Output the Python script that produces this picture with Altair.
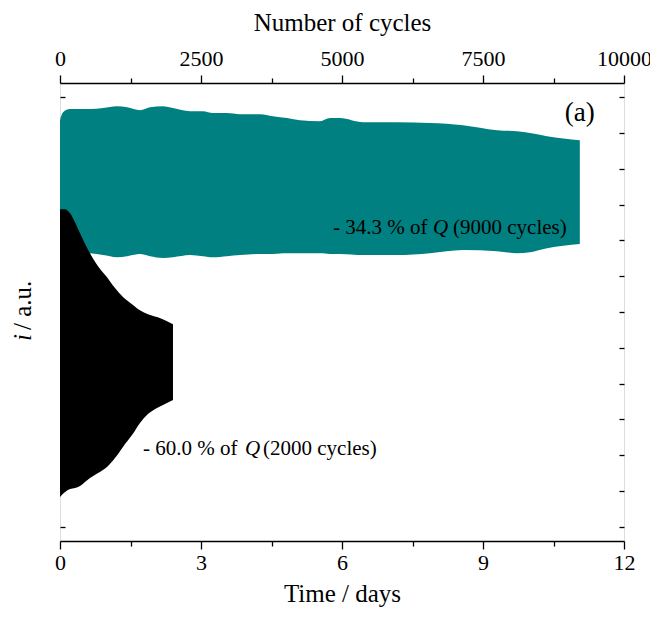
import altair as alt
import pandas as pd

FONT = "Liberation Serif"

# ---- data ----
teal_days = [0, 0.064, 0.213, 0.638, 0.915, 1.213, 1.426, 1.702, 1.915, 2.191, 2.404,
             2.766, 3.043, 3.255, 3.553, 3.830, 4.255, 4.532, 4.830, 5.106, 5.532,
             5.745, 5.957, 6.447, 7.170, 7.872, 8.574, 9.298, 9.723, 10.0, 10.362, 11.06]
teal_upper = [11.36, 11.58, 11.67, 11.67, 11.70, 11.75, 11.72, 11.64, 11.72, 11.75, 11.70,
              11.61, 11.61, 11.56, 11.56, 11.53, 11.53, 11.47, 11.42, 11.36, 11.33,
              11.42, 11.42, 11.30, 11.30, 11.28, 11.22, 11.08, 11.05, 11.00, 10.91, 10.80]
teal_lower = [7.67, 7.67, 7.67, 7.64, 7.59, 7.53, 7.56, 7.62, 7.56, 7.51, 7.53,
              7.59, 7.56, 7.53, 7.56, 7.59, 7.62, 7.62, 7.64, 7.64, 7.64,
              7.62, 7.62, 7.59, 7.59, 7.64, 7.73, 7.70, 7.64, 7.67, 7.78, 7.90]

black_days = [0, 0.106, 0.213, 0.319, 0.426, 0.638, 0.809, 1.0, 1.170, 1.340, 1.532,
              1.702, 1.872, 2.064, 2.234, 2.404]
black_upper = [8.87, 8.87, 8.76, 8.51, 8.20, 7.64, 7.28, 6.97, 6.67, 6.42, 6.22,
               6.05, 5.94, 5.86, 5.77, 5.66]
black_lower = [0.83, 0.97, 1.05, 1.08, 1.14, 1.36, 1.50, 1.67, 1.92, 2.23, 2.56,
               2.90, 3.15, 3.32, 3.43, 3.54]

time_ticks = [0, 1.5, 3, 4.5, 6, 7.5, 9, 10.5, 12]
cycle_ticks = [0, 1250, 2500, 3750, 5000, 6250, 7500, 8750, 10000]
i_ticks = list(range(0, 13))

anno_normal_t = [5.809, 8.362, 1.766, 4.319]
anno_normal_y = [8.18, 8.18, 2.00, 2.00]
anno_normal_text = ["- 34.3 % of", "(9000 cycles)", "- 60.0 % of", "(2000 cycles)"]
anno_italic_t = [7.936, 3.936]
anno_italic_y = [8.18, 2.00]
anno_italic_text = ["Q", "Q"]

teal_df = pd.DataFrame({"t": teal_days, "hi": teal_upper, "lo": teal_lower})
black_df = pd.DataFrame({"t": black_days, "hi": black_upper, "lo": black_lower})
norm_df = pd.DataFrame({"t": anno_normal_t, "hi": anno_normal_y, "txt": anno_normal_text})
ital_df = pd.DataFrame({"t": anno_italic_t, "hi": anno_italic_y, "txt": anno_italic_text})
label_df = pd.DataFrame({"t": [11.06], "hi": [11.33], "txt": ["(a)"]})
one_df = pd.DataFrame({"a": [0]})

xscale = alt.Scale(domain=[0, 12], nice=False, zero=False)
yscale = alt.Scale(domain=[-0.4, 12.4], nice=False, zero=False)

x_axis = alt.Axis(
    values=time_ticks, format="~g",
    labelExpr="datum.value % 3 === 0 ? datum.label : ''",
    title="Time / days",
    tickSize={"condition": {"test": "datum.value % 3 === 0", "value": 8}, "value": 5},
    grid=False, domain=True, domainColor="black", domainWidth=1.5,
    tickColor="black", tickWidth=1.3, labelFlush=False,
    labelFont=FONT, labelFontSize=22, labelColor="black", labelPadding=3,
    titleFont=FONT, titleFontSize=25, titleFontWeight="normal", titleColor="black",
    titlePadding=8,
)
y_left = alt.Axis(
    values=i_ticks, labels=False, title=None, grid=False, domain=False,
    tickColor="black", tickWidth=1.3, tickSize=5, offset=-5, orient="left",
)

main_x = alt.X("t:Q", scale=xscale, axis=x_axis)
main_y = alt.Y("hi:Q", scale=yscale, axis=y_left)

teal = alt.Chart(teal_df).mark_area(color="#008080", interpolate="monotone").encode(
    x=main_x, y=main_y, y2="lo:Q")
black = alt.Chart(black_df).mark_area(color="black", interpolate="monotone").encode(
    x=main_x, y=main_y, y2="lo:Q")

t_norm = alt.Chart(norm_df).mark_text(
    font=FONT, fontSize=21, align="left", baseline="alphabetic", color="black"
).encode(x=main_x, y=main_y, text="txt:N")
t_ital = alt.Chart(ital_df).mark_text(
    font=FONT, fontSize=21, fontStyle="italic", align="left", baseline="alphabetic", color="black"
).encode(x=main_x, y=main_y, text="txt:N")
t_label = alt.Chart(label_df).mark_text(
    font=FONT, fontSize=27, align="center", baseline="alphabetic", color="black"
).encode(x=main_x, y=main_y, text="txt:N")

ytitle_i = alt.Chart(one_df).mark_text(
    font=FONT, fontSize=25, fontStyle="italic", angle=270, align="left",
    baseline="middle", color="black", text="i"
).encode(x=alt.value(-37), y=alt.value(258))
ytitle_rest = alt.Chart(one_df).mark_text(
    font=FONT, fontSize=25, angle=270, align="left",
    baseline="middle", color="black", text=" / a.u."
).encode(x=alt.value(-37), y=alt.value(247))

main = alt.layer(teal, black, t_norm, t_ital, t_label, ytitle_i, ytitle_rest)

top_axis = alt.Axis(
    values=cycle_ticks, format="d", orient="top",
    labelExpr="datum.value % 2500 === 0 ? datum.label : ''",
    title="Number of cycles",
    tickSize={"condition": {"test": "datum.value % 2500 === 0", "value": 8}, "value": 5},
    grid=False, domain=True, domainColor="black", domainWidth=1.5,
    tickColor="black", tickWidth=1.3, labelFlush=False,
    labelFont=FONT, labelFontSize=22, labelColor="black", labelPadding=5,
    titleFont=FONT, titleFontSize=25, titleFontWeight="normal", titleColor="black",
    titlePadding=12,
)
y_right = alt.Axis(
    values=i_ticks, labels=False, title=None, grid=False, domain=False,
    tickColor="black", tickWidth=1.3, tickSize=5, offset=-5, orient="right",
)

axis_df = pd.DataFrame({"c": [cycle_ticks[0], cycle_ticks[-1]], "v": [i_ticks[0], i_ticks[-1]]})
axis_layer = alt.Chart(axis_df).mark_point(opacity=0).encode(
    x=alt.X("c:Q", scale=alt.Scale(domain=[0, 10000], nice=False, zero=False), axis=top_axis),
    y=alt.Y("v:Q", scale=yscale, axis=y_right),
)

chart = alt.layer(main, axis_layer).resolve_scale(
    x="independent", y="independent"
).properties(
    width=564, height=458,
    autosize=alt.AutoSizeParams(type="none"),
    padding={"left": 60, "top": 83, "right": 26, "bottom": 76},
    background="white",
).configure_view(
    stroke="black", strokeWidth=1.5
).configure(font=FONT)

chart.save("out.html", embed_options={"renderer": "svg", "actions": False})
